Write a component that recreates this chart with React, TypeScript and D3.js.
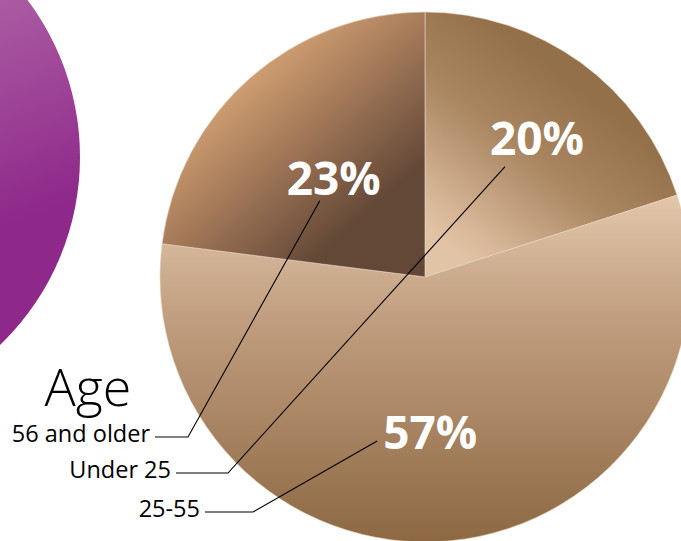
import React from "react";
import * as d3 from "d3";

const categories = ["Under 25", "25-55", "56 and older"];
const values = [20, 57, 23];
const percentLabels = ["20%", "57%", "23%"];
const legendOrder = ["56 and older", "Under 25", "25-55"];
const legendTitle = "Age";

const W = 681;
const H = 541;
const CX = 425;
const CY = 277;
const R = 265;

// layout of annotations (per category)
const labelLayout: Record<string, { r: number; dAngle: number; anchor: [number, number] }> = {
  "Under 25": { r: 178, dAngle: 3, anchor: [-32, 28] },
  "25-55": { r: 156, dAngle: 3.5, anchor: [-53, 8] },
  "56 and older": { r: 134, dAngle: -1.5, anchor: [-14, 22] },
};
const legendX = [150, 171, 200];
const legendY = [442, 478, 517];
const elbowX = [188, 228, 253];

// gradient geometry in page coordinates
const gradients: Record<string, { x1: number; y1: number; x2: number; y2: number; stops: [number, string][] }> = {
  "Under 25": { x1: 450, y1: 248, x2: 575, y2: 85, stops: [[0, "#e1c3a5"], [0.12, "#d9b99a"], [0.6, "#a98560"], [1, "#93704a"]] },
  "25-55": { x1: 0, y1: 195, x2: 0, y2: 545, stops: [[0, "#e3c7ab"], [0.35, "#c19e7f"], [1, "#8c6742"]] },
  "56 and older": { x1: 232, y1: 70, x2: 362, y2: 218, stops: [[0, "#d8a676"], [0.5, "#a07657"], [1, "#634837"]] },
};

export default function App() {
  const pie = d3.pie<number>().sort(null).value((d) => d);
  const arcs = pie(values);
  const arc = d3.arc<d3.PieArcDatum<number>>().innerRadius(0).outerRadius(R);

  return (
    <svg
      width={W}
      height={H}
      style={{ position: "absolute", left: 0, top: 0, overflow: "hidden", background: "#fff" }}
    >
      <defs>
        <linearGradient id="purple" gradientUnits="userSpaceOnUse" x1={0} y1={0} x2={75} y2={200}>
          <stop offset="0" stopColor="#ab5ba2" />
          <stop offset="1" stopColor="#8e288a" />
        </linearGradient>
        {categories.map((c, i) => {
          const g = gradients[c];
          return (
            <linearGradient
              key={c}
              id={`g${i}`}
              gradientUnits="userSpaceOnUse"
              x1={g.x1 - CX}
              y1={g.y1 - CY}
              x2={g.x2 - CX}
              y2={g.y2 - CY}
            >
              {g.stops.map(([o, col], k) => (
                <stop key={k} offset={o} stopColor={col} />
              ))}
            </linearGradient>
          );
        })}
      </defs>
      <circle cx={-181} cy={157} r={261} fill="url(#purple)" />
      <g transform={`translate(${CX},${CY})`}>
        {arcs.map((a, i) => (
          <path key={i} d={arc(a) || ""} fill={`url(#g${i})`} stroke="#ead6c2" strokeWidth={0.6} />
        ))}
      </g>
      {arcs.map((a, i) => {
        const c = categories[i];
        const L = labelLayout[c];
        const mid = (a.startAngle + a.endAngle) / 2 + (L.dAngle * Math.PI) / 180;
        const tx = CX + L.r * Math.sin(mid);
        const ty = CY - L.r * Math.cos(mid);
        const li = legendOrder.indexOf(c);
        const lx = legendX[li];
        const ly = legendY[li];
        const ay = ly - 5;
        return (
          <g key={c}>
            <polyline
              points={`${lx + 5},${ay} ${elbowX[li]},${ay} ${tx + L.anchor[0]},${ty + L.anchor[1]}`}
              fill="none"
              stroke="#000"
              strokeWidth={1.1}
            />
            <text
              x={tx}
              y={ty}
              dy="0.36em"
              textAnchor="middle"
              fill="#fff"
              fontFamily="Open Sans"
              fontWeight={700}
              fontSize={46}
            >
              {percentLabels[i]}
            </text>
          </g>
        );
      })}
      <text x={88} y={406} textAnchor="middle" fontFamily="Open Sans" fontWeight={300} fontSize={52} fill="#000">
        {legendTitle}
      </text>
      {legendOrder.map((c, i) => (
        <text key={c} x={legendX[i]} y={legendY[i]} textAnchor="end" fontFamily="Open Sans" fontSize={23.5} fill="#000">
          {c}
        </text>
      ))}
    </svg>
  );
}
